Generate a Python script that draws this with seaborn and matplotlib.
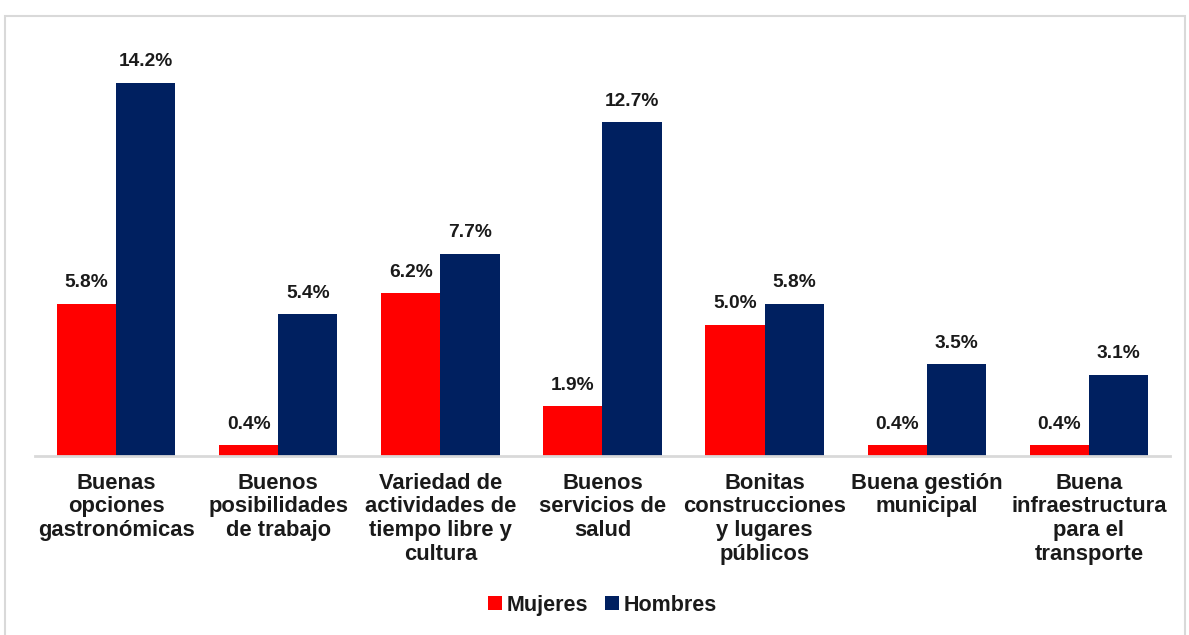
import matplotlib
matplotlib.use("Agg")
import matplotlib.pyplot as plt
import seaborn as sns
import pandas as pd
from matplotlib.patches import Rectangle

categories = [
    "Buenas\nopciones\ngastronómicas",
    "Buenos\nposibilidades\nde trabajo",
    "Variedad de\nactividades de\ntiempo libre y\ncultura",
    "Buenos\nservicios de\nsalud",
    "Bonitas\nconstrucciones\ny lugares\npúblicos",
    "Buena gestión\nmunicipal",
    "Buena\ninfraestructura\npara el\ntransporte",
]
mujeres = [5.8, 0.4, 6.2, 1.9, 5.0, 0.4, 0.4]
hombres = [14.2, 5.4, 7.7, 12.7, 5.8, 3.5, 3.1]
series = ["Mujeres", "Hombres"]
colors = ["#FF0000", "#002060"]

df = pd.DataFrame({
    "categoria": categories * 2,
    "grupo": [series[0]] * len(categories) + [series[1]] * len(categories),
    "valor": mujeres + hombres,
})

sns.set_theme(style="white")
plt.rcParams["font.family"] = ["Liberation Sans", "DejaVu Sans"]

fig = plt.figure(figsize=(11.89, 6.35), dpi=100)
ax = fig.add_axes([0.0294, 0.2819, 0.9546, 0.662])

sns.barplot(data=df, x="categoria", y="valor", hue="grupo", order=categories,
            hue_order=series, palette=colors, width=0.73, saturation=1,
            edgecolor="none", ax=ax)

for cont in ax.containers:
    ax.bar_label(cont, labels=[f"{v:.1f}%" for v in cont.datavalues],
                 padding=9, fontsize=13.8, fontweight="bold", color="#1a1a1a")

ax.set_ylim(0, 16)
ax.set_xlim(-0.5, len(categories) - 0.5)
ax.set_xlabel("")
ax.set_ylabel("")
ax.set_yticks([])
for s in ["top", "right", "left"]:
    ax.spines[s].set_visible(False)
ax.spines["bottom"].set_color("#d9d9d9")
ax.spines["bottom"].set_linewidth(2)
ax.tick_params(axis="x", length=0, pad=12)
for lbl in ax.get_xticklabels():
    lbl.set_fontsize(15.8)
    lbl.set_fontweight("bold")
    lbl.set_color("#1a1a1a")
    lbl.set_linespacing(1.17)
    lbl.set_verticalalignment("top")

leg = ax.legend(loc="center", bbox_to_anchor=(0.5, -0.355), ncol=2, frameon=False,
                prop={"size": 15.5, "weight": "bold"}, handlelength=0.65,
                handleheight=0.65, handletextpad=0.2, columnspacing=0.8)
for t in leg.get_texts():
    t.set_color("#1a1a1a")

# outer frame of the chart area
fig.patches.append(Rectangle((5 / 1189, -0.01), 1180 / 1189, 1 - 16 / 635 + 0.01,
                             transform=fig.transFigure, fill=False,
                             edgecolor="#d9d9d9", linewidth=1.5))

fig.savefig("out.png", dpi=100)
